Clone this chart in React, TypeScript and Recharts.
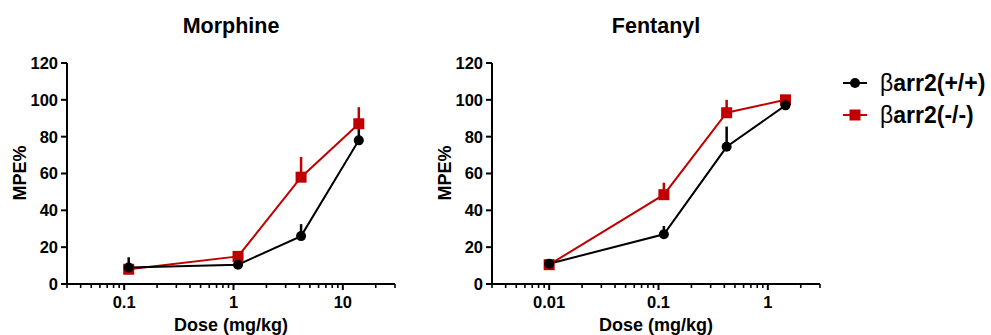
import React from "react";
import { LineChart, Line, XAxis, YAxis, ErrorBar } from "recharts";

const FONT = "'Liberation Sans', Arial, Helvetica, sans-serif";
const RED = "#c00000";

// Morphine
const morphineDose = [0.11, 1.1, 4.15, 14];
const morphineWt = [9, 10.5, 26, 78];
const morphineWtErr = [5.5, 0, 6.5, 8];
const morphineKo = [8, 15, 58, 87];
const morphineKoErr = [0, 0, 11, 9];
const morphineMajors = [0.1, 1, 10];
const morphineDomain: [number, number] = [0.03, 30];

// Fentanyl
const fentanylDose = [0.01, 0.112, 0.42, 1.45];
const fentanylWt = [11, 27, 74.5, 97];
const fentanylWtErr = [0, 4.5, 11, 0];
const fentanylKo = [10.5, 48.5, 93, 100];
const fentanylKoErr = [0, 6.5, 7, 0];
const fentanylMajors = [0.01, 0.1, 1];
const fentanylDomain: [number, number] = [0.003, 3];

const yTicks = [0, 20, 40, 60, 80, 100, 120];

function logTicks(domain: [number, number]) {
  const out: number[] = [];
  let m = Math.pow(10, Math.floor(Math.log10(domain[0])));
  while (m <= domain[1]) {
    for (let k = 1; k <= 9; k++) {
      const v = parseFloat((m * k).toPrecision(6));
      if (v >= domain[0] - 1e-12 && v <= domain[1] + 1e-12) out.push(v);
    }
    m *= 10;
  }
  return out;
}

const LogTick = (props: any) => {
  const { x, y, payload, majors } = props;
  const major = majors.some((m: number) => Math.abs(m - payload.value) < 1e-9);
  return (
    <g>
      <line x1={x} x2={x} y1={y} y2={y + (major ? 6 : 4)} stroke="#000" strokeWidth={major ? 2 : 1.6} />
      {major && (
        <text x={x} y={y + 24} textAnchor="middle" fontFamily={FONT} fontWeight="bold" fontSize={16.5} fill="#000">
          {String(payload.value)}
        </text>
      )}
    </g>
  );
};

const Square = (props: any) => {
  const { cx, cy, index } = props;
  if (cx == null || cy == null) return <g key={index} />;
  return <rect key={index} x={cx - 5.5} y={cy - 5.5} width={11} height={11} fill={RED} />;
};

function DoseChart(props: {
  dose: number[];
  wt: number[];
  wtErr: number[];
  ko: number[];
  koErr: number[];
  majors: number[];
  domain: [number, number];
}) {
  const { dose, wt, wtErr, ko, koErr, majors, domain } = props;
  const data = dose.map((d, i) => ({
    dose: d,
    wt: wt[i],
    ko: ko[i],
    wtErr: [0, wtErr[i]],
    koErr: [0, koErr[i]],
  }));
  return (
    <LineChart width={420} height={335} data={data} margin={{ top: 63, right: 25, bottom: 21, left: 17 }}>
      <XAxis
        dataKey="dose"
        type="number"
        scale="log"
        domain={domain}
        ticks={logTicks(domain)}
        interval={0}
        allowDataOverflow
        tickSize={0}
        tickMargin={0}
        tickLine={false}
        axisLine={{ stroke: "#000", strokeWidth: 2 }}
        tick={(p: any) => <LogTick {...p} majors={majors} />}
        height={30}
      />
      <YAxis
        type="number"
        domain={[0, 120]}
        ticks={yTicks}
        interval={0}
        width={50}
        tickSize={6}
        tickMargin={3}
        axisLine={{ stroke: "#000", strokeWidth: 2 }}
        tickLine={{ stroke: "#000", strokeWidth: 2 }}
        tick={{ fill: "#000", fontFamily: FONT, fontWeight: "bold", fontSize: 16.5 }}
      />
      <Line
        dataKey="ko"
        stroke={RED}
        strokeWidth={2}
        dot={(p: any) => <Square {...p} />}
        activeDot={false}
        isAnimationActive={false}
      >
        <ErrorBar dataKey="koErr" width={0} stroke={RED} strokeWidth={2.5} direction="y" />
      </Line>
      <Line
        dataKey="wt"
        stroke="#000"
        strokeWidth={2}
        dot={{ r: 5, fill: "#000", stroke: "#000", strokeWidth: 0 }}
        activeDot={false}
        isAnimationActive={false}
      >
        <ErrorBar dataKey="wtErr" width={0} stroke="#000" strokeWidth={2.5} direction="y" />
      </Line>
    </LineChart>
  );
}

export default function App() {
  const textStyle = { fontFamily: FONT, fontWeight: "bold" as const, fill: "#000" };
  return (
    <div style={{ position: "absolute", left: 0, top: 0, width: 991, height: 335, background: "#fff", overflow: "hidden" }}>
      <div style={{ position: "absolute", left: 0, top: 0 }}>
        <DoseChart
          dose={morphineDose}
          wt={morphineWt}
          wtErr={morphineWtErr}
          ko={morphineKo}
          koErr={morphineKoErr}
          majors={morphineMajors}
          domain={morphineDomain}
        />
      </div>
      <div style={{ position: "absolute", left: 425, top: 0 }}>
        <DoseChart
          dose={fentanylDose}
          wt={fentanylWt}
          wtErr={fentanylWtErr}
          ko={fentanylKo}
          koErr={fentanylKoErr}
          majors={fentanylMajors}
          domain={fentanylDomain}
        />
      </div>
      <svg width={991} height={335} style={{ position: "absolute", left: 0, top: 0, pointerEvents: "none" }}>
        <text x={231} y={33} textAnchor="middle" fontSize={21.5} {...textStyle}>Morphine</text>
        <text x={656} y={33} textAnchor="middle" fontSize={21.5} {...textStyle}>Fentanyl</text>
        <text x={231} y={331} textAnchor="middle" fontSize={18} {...textStyle}>Dose (mg/kg)</text>
        <text x={656} y={331} textAnchor="middle" fontSize={18} {...textStyle}>Dose (mg/kg)</text>
        <text transform="translate(26,173) rotate(-90)" textAnchor="middle" fontSize={18} {...textStyle}>MPE%</text>
        <text transform="translate(451,173) rotate(-90)" textAnchor="middle" fontSize={18} {...textStyle}>MPE%</text>
        <g>
          <line x1={843} x2={867} y1={83} y2={83} stroke="#000" strokeWidth={2} />
          <circle cx={855} cy={83} r={5} fill="#000" />
          <text x={880} y={91} fontSize={23} {...textStyle}>
            <tspan fontWeight="normal">β</tspan>arr2(+/+)
          </text>
          <line x1={843} x2={867} y1={115} y2={115} stroke={RED} strokeWidth={2} />
          <rect x={849.5} y={109.5} width={11} height={11} fill={RED} />
          <text x={880} y={123} fontSize={23} {...textStyle}>
            <tspan fontWeight="normal">β</tspan>arr2(-/-)
          </text>
        </g>
      </svg>
    </div>
  );
}
